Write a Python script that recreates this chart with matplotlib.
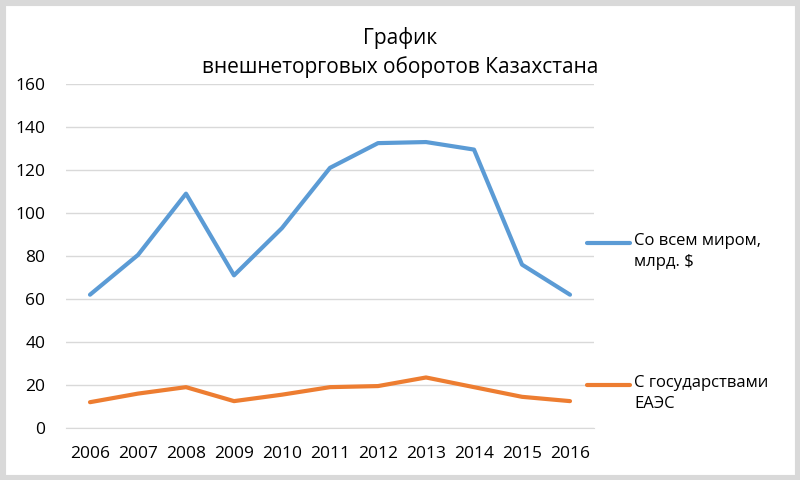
import matplotlib
matplotlib.use("Agg")
import matplotlib.pyplot as plt
from matplotlib.patches import Rectangle

plt.rcParams['font.family'] = ['Open Sans', 'DejaVu Sans']

years = ['2006', '2007', '2008', '2009', '2010', '2011', '2012', '2013', '2014', '2015', '2016']
world = [62, 80.5, 109, 71, 93, 121, 132.5, 133, 129.5, 76, 62]
eaes = [12, 16, 19, 12.5, 15.5, 19, 19.5, 23.5, 19, 14.5, 12.5]
labels = ['Со всем миром,\nмлрд. $', 'С государствами\nЕАЭС']
yticks = [0, 20, 40, 60, 80, 100, 120, 140, 160]

fig = plt.figure(figsize=(8, 4.8), dpi=100)
ax = fig.add_axes([66 / 800, 1 - 428 / 480, (594 - 66) / 800, (428 - 84) / 480])

x = list(range(len(years)))
ax.plot(x, world, color='#5B9BD5', lw=3, solid_capstyle='round', label=labels[0])
ax.plot(x, eaes, color='#ED7D31', lw=3, solid_capstyle='round', label=labels[1])

ax.set_xlim(-0.5, len(years) - 0.5)
ax.set_ylim(0, 160)
ax.set_yticks(yticks)
ax.set_xticks(x)
ax.set_xticklabels(years)
ax.grid(axis='y', color='#d9d9d9', lw=1)
ax.set_axisbelow(True)
for s in ax.spines.values():
    s.set_visible(False)
ax.spines['bottom'].set_visible(True)
ax.spines['bottom'].set_color('#d9d9d9')
ax.tick_params(length=0, labelsize=12.5, colors='#000000')
ax.tick_params(axis='x', pad=13)
ax.tick_params(axis='y', pad=15)

# legend drawn by hand, like in Excel
for (yy, txt, col) in [(243, labels[0], '#5B9BD5'), (385, labels[1], '#ED7D31')]:
    fig.lines.append(plt.Line2D([587 / 800, 630 / 800], [1 - yy / 480] * 2,
                                transform=fig.transFigure, color=col, lw=3, solid_capstyle='round'))
    fig.text(634 / 800, 1 - (yy - 10) / 480, txt, fontsize=12, va='top', ha='left', linespacing=1.45)

fig.text(0.5, 1 - 38 / 480, 'График', ha='center', va='center', fontsize=15)
fig.text(0.5, 1 - 67 / 480, 'внешнеторговых оборотов Казахстана', ha='center', va='center', fontsize=15)

fig.patches.append(Rectangle((0, 0), 1, 1, transform=fig.transFigure, fill=False,
                             edgecolor='#d9d9d9', lw=8))

fig.savefig('out.png', dpi=100)
